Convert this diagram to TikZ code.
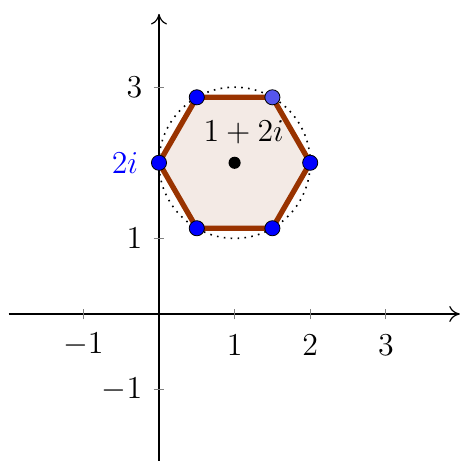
\documentclass[tikz,border=0pt]{standalone}
\usetikzlibrary{arrows.meta}
\definecolor{hexfill}{HTML}{F3EAE5}
\definecolor{hexdraw}{HTML}{993300}
\definecolor{lblue}{HTML}{5555EE}
\begin{document}
\begin{tikzpicture}[
  axis/.style={line width=0.45pt,black},
  tickmark/.style={gray,line width=0.4pt},
  vtx/.style={circle,fill=blue,draw=black,line width=0.3pt,inner sep=0pt,minimum size=0.2cm},
  lbl/.style={font=\large,inner sep=1pt}
]
\useasboundingbox (-2.103,-1.944) rectangle (4.008,4.153);
% axes
\coordinate (xs) at (-1.99,0);
\coordinate (xe) at (3.98,0);
\coordinate (ys) at (0,-1.95);
\coordinate (ye) at (0,3.97);
\draw[axis,-{To[length=4pt,width=6pt]}] (xs) -- (xe);
\draw[axis,-{To[length=4pt,width=6pt]}] (ys) -- (ye);
% ticks
\foreach \x in {-1,1,2,3} \draw[tickmark] (\x,-0.07) -- (\x,0.07);
\foreach \y in {-1,1,3} \draw[tickmark] (-0.07,\y) -- (0.07,\y);
\node[lbl] (tx1) at (-1,-0.41) {$-1$};
\node[lbl] (tx2) at (1,-0.41) {$1$};
\node[lbl] (tx3) at (2,-0.41) {$2$};
\node[lbl] (tx4) at (3,-0.41) {$3$};
\node[lbl,anchor=east] (ty1) at (-0.18,-1) {$-1$};
\node[lbl,anchor=east] (ty2) at (-0.18,1) {$1$};
\node[lbl,anchor=east] (ty3) at (-0.18,3) {$3$};
% circle
\draw[dotted,line width=0.6pt] (1,2) circle (1);
% hexagon
\filldraw[fill=hexfill,draw=hexdraw,line width=2pt,line join=round]
  (2,2) -- (1.5,2.866) -- (0.5,2.866) -- (0,2) -- (0.5,1.134) -- (1.5,1.134) -- cycle;
% vertices
\node[vtx] (v0) at (2,2) {};
\node[vtx,fill=lblue] (v1) at (1.5,2.866) {};
\node[vtx] (v2) at (0.5,2.866) {};
\node[vtx] (v3) at (0,2) {};
\node[vtx] (v4) at (0.5,1.134) {};
\node[vtx] (v5) at (1.5,1.134) {};
\node[circle,fill=black,inner sep=0pt,minimum size=0.16cm] (c) at (1,2) {};
\node[lbl] (cl) at (1.12,2.41) {$1+2i$};
\node[lbl,text=blue] (il) at (-0.45,1.99) {$2i$};
\end{tikzpicture}
\end{document}
